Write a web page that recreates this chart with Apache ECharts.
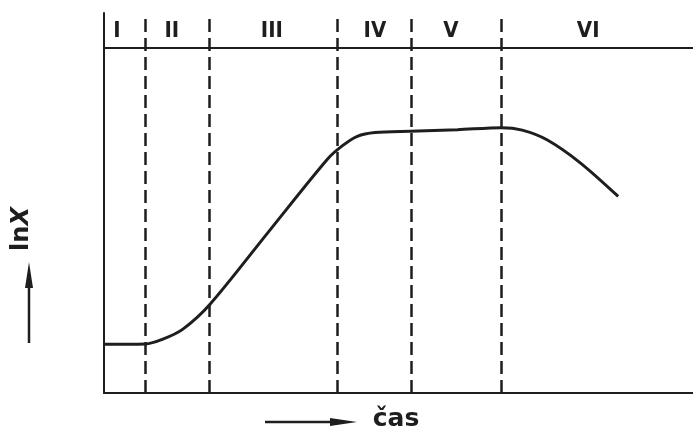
<!DOCTYPE html>
<html>
<head>
<meta charset="utf-8">
<script src="https://cdn.jsdelivr.net/npm/echarts@6/dist/echarts.min.js"></script>
<style>
html,body{margin:0;padding:0;background:#fff;}
#c{width:693px;height:428px;}
</style>
</head>
<body>
<div id="c"></div>
<script>
// Growth curve (time in arbitrary units, lnX in arbitrary units)
var timeValues = [0, 7, 10, 13.4, 18, 28, 38, 40.5, 43, 46, 52, 60, 67.5, 71, 75.2, 80.8, 87.3];
var lnXValues  = [14.1, 14.2, 15.6, 18.5, 25.7, 46.8, 67.8, 71.6, 74.3, 75.4, 75.8, 76.2, 76.8, 76.1, 73.3, 66.7, 56.9];
// Phase boundaries (dashed lines) and phase labels
var phaseBoundaries = [7.0, 17.8, 39.6, 52.1, 67.4];
var phaseLabels = ['I', 'II', 'III', 'IV', 'V', 'VI'];
var phaseLabelX = [2.2, 11.5, 28.5, 46.0, 58.9, 82.2];
var phaseLabelY = 104.8;
var headerLineY = 100;

var chart = echarts.init(document.getElementById('c'), null, {renderer: 'canvas'});
var ink = '#1e1e1e';

var curve = timeValues.map(function (t, i) { return [t, lnXValues[i]]; });
var labelPts = phaseLabels.map(function (n, i) { return {value: [phaseLabelX[i], phaseLabelY], name: n}; });

var vLines = phaseBoundaries.map(function (b) { return {xAxis: b}; });
vLines.push({yAxis: headerLineY, lineStyle: {type: 'solid', width: 2, color: ink}});

chart.setOption({
  backgroundColor: '#fff',
  animation: false,
  grid: {left: 104, right: 0, top: 13, bottom: 35},
  xAxis: {
    type: 'value', min: 0, max: 100,
    axisLine: {show: true, onZero: false, lineStyle: {color: ink, width: 2}},
    axisTick: {show: false}, axisLabel: {show: false}, splitLine: {show: false}
  },
  yAxis: {
    type: 'value', min: 0, max: 110,
    axisLine: {show: true, onZero: false, lineStyle: {color: ink, width: 2}},
    axisTick: {show: false}, axisLabel: {show: false}, splitLine: {show: false}
  },
  series: [
    {
      type: 'line',
      data: curve,
      smooth: 0.3,
      symbol: 'none',
      lineStyle: {color: ink, width: 3},
      markLine: {
        silent: true,
        symbol: ['none', 'none'],
        label: {show: false},
        lineStyle: {type: [13, 6], width: 2.5, color: ink},
        data: vLines
      }
    },
    {
      type: 'scatter',
      data: labelPts,
      symbolSize: 0,
      silent: true,
      itemStyle: {opacity: 1, color: ink},
      label: {
        show: true,
        position: 'inside',
        formatter: function (p) { return p.name; },
        color: ink,
        opacity: 1,
        fontSize: 22,
        fontWeight: 'bold',
        fontFamily: '"Liberation Sans Narrow", "DejaVu Sans Condensed", "Liberation Sans", sans-serif'
      }
    }
  ],
  graphic: [
    // y axis title: lnX with arrow
    {
      type: 'text', x: 22, y: 229, rotation: Math.PI / 2,
      style: {
        text: '{a|ln}{b|X}', align: 'center', verticalAlign: 'middle',
        rich: {
          a: {fontSize: 24, fontWeight: 'bold', fontFamily: '"DejaVu Sans", sans-serif', fill: ink},
          b: {fontSize: 24, fontWeight: 'bold', fontStyle: 'italic', fontFamily: '"DejaVu Sans", sans-serif', fill: ink}
        }
      }
    },
    {type: 'line', shape: {x1: 29, y1: 343, x2: 29, y2: 280}, style: {stroke: ink, lineWidth: 2.5}},
    {type: 'polygon', shape: {points: [[29, 262], [25, 288], [33, 288]]}, style: {fill: ink}},
    // x axis title: arrow and čas
    {type: 'line', shape: {x1: 265, y1: 422, x2: 335, y2: 422}, style: {stroke: ink, lineWidth: 2.5}},
    {type: 'polygon', shape: {points: [[357, 422], [330, 418], [330, 426]]}, style: {fill: ink}},
    {
      type: 'text', x: 396, y: 419,
      style: {
        text: 'čas', align: 'center', verticalAlign: 'middle',
        fontSize: 25, fontWeight: 'bold', fontFamily: '"DejaVu Sans", sans-serif', fill: ink
      }
    }
  ]
});
</script>
</body>
</html>
